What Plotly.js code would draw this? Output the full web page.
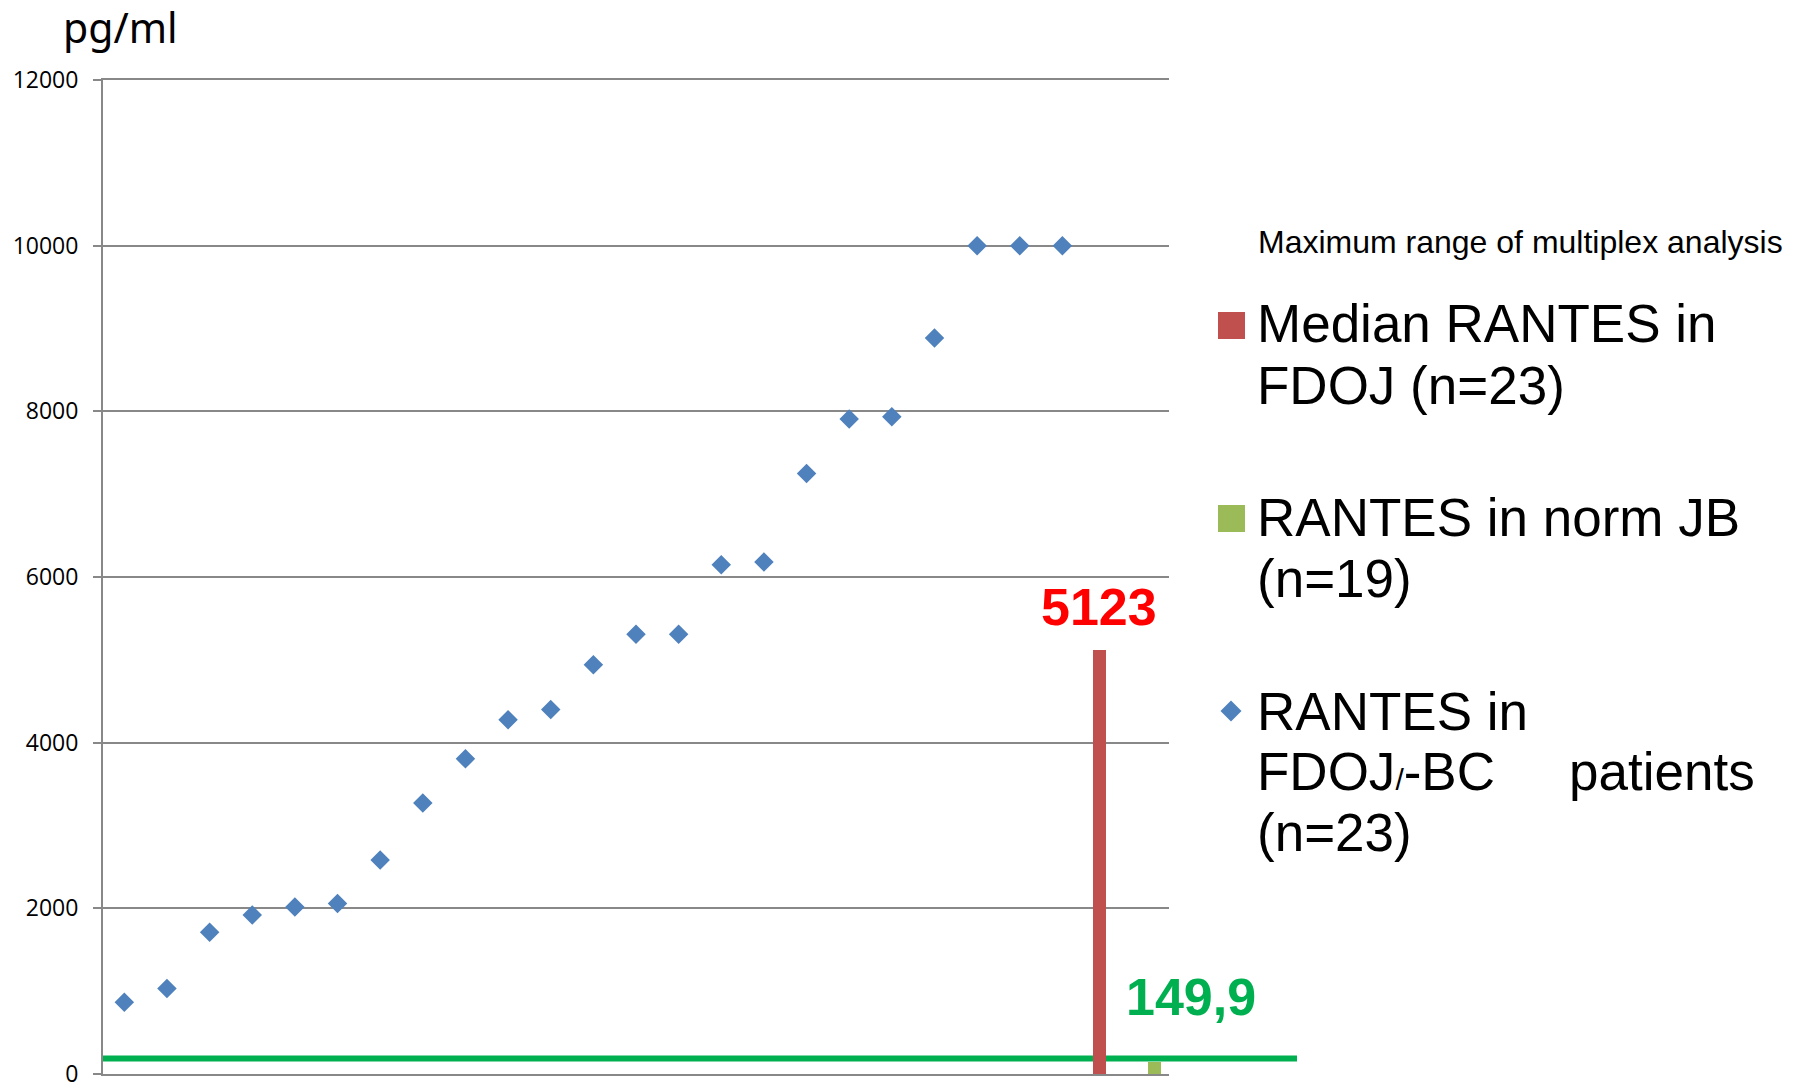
<!DOCTYPE html>
<html>
<head>
<meta charset="utf-8">
<script src="https://cdn.plot.ly/plotly-3.0.1.min.js"></script>
<style>
  html, body { margin: 0; padding: 0; background: #ffffff; }
  #chart { width: 1795px; height: 1083px; }
</style>
</head>
<body>
<div id="chart"></div>
<script>
// RANTES concentrations (pg/ml) in FDOJ-BC patients, sorted ascending
const patientIds = [1, 2, 3, 4, 5, 6, 7, 8, 9, 10, 11, 12, 13, 14, 15, 16, 17, 18, 19, 20, 21, 22, 23];
const patientRantes = [866, 1033, 1712, 1920, 2017, 2058, 2585, 3271, 3805, 4276, 4400, 4941,
                       5308, 5308, 6147, 6182, 7249, 7907, 7935, 8884, 10000, 10000, 10000];

// Median RANTES in FDOJ (n=23)
const medianPos = [24];
const medianFDOJ = [5123];

// RANTES in normal jaw bone (n=19)
const normPos = [25];
const normJB = [149.9];

const yTickVals = [0, 2000, 4000, 6000, 8000, 10000, 12000];
const yTickText = ['0', '2000', '4000', '6000', '8000', '10000', '12000'];

// ---- geometry of the page ----
const W = 1795, H = 1083;
const M = { l: 103, r: 626, t: 80, b: 9 };
const plotW = W - M.l - M.r;
const plotH = H - M.t - M.b;
const px = x => (x - M.l) / plotW;            // pixel -> paper x
const py = y => (H - M.b - y) / plotH;         // pixel -> paper y

const GRID = '#888888';
const BAR_W = 0.293;
const RED_OFF = -0.28;
const GREEN_OFF = 0.01;

const traces = [
  {
    type: 'scatter',
    mode: 'markers',
    x: patientIds,
    y: patientRantes,
    marker: { symbol: 'diamond', size: 15, color: '#4F81BD', line: { width: 0 } },
    cliponaxis: false,
    hoverinfo: 'x+y'
  },
  {
    type: 'bar',
    x: medianPos,
    y: medianFDOJ,
    width: BAR_W,
    offset: RED_OFF,
    marker: { color: '#C0504D', line: { width: 0 } }
  },
  {
    type: 'bar',
    x: normPos,
    y: normJB,
    width: BAR_W,
    offset: GREEN_OFF,
    marker: { color: '#9BBB59', line: { width: 0 } }
  }
];

const legendFont = { family: 'Liberation Sans, Arial, sans-serif', size: 53, color: '#000000' };
// text box centre from baseline for Liberation Sans
const mid = (baseline, size) => baseline - 0.3465 * size;

function textAt(text, left, baseline, font) {
  return {
    xref: 'paper', yref: 'paper',
    x: px(left), y: py(mid(baseline, font.size)),
    xanchor: 'left', yanchor: 'middle',
    text: text, showarrow: false, font: font,
    borderpad: 0
  };
}

const LX = 1256;

const annotations = [
  {
    xref: 'paper', yref: 'paper',
    x: px(120), y: py(27),
    xanchor: 'center', yanchor: 'middle',
    text: 'pg/ml', showarrow: false,
    font: { family: 'Noto Sans, Open Sans, sans-serif', size: 41, color: '#000000' }
  },
  textAt('Maximum range of multiplex analysis', 1257, 253,
         { family: 'Liberation Sans, Arial, sans-serif', size: 32, color: '#000000' }),
  textAt('Median RANTES in', LX, 342, legendFont),
  textAt('FDOJ (n=23)', LX, 404, legendFont),
  textAt('RANTES in norm JB', LX, 536, legendFont),
  textAt('(n=19)', LX, 597, legendFont),
  textAt('RANTES in', LX, 730, legendFont),
  textAt('FDOJ<span style="font-size:30px">/</span>-BC', LX, 790, legendFont),
  textAt('patients', 1568, 790, legendFont),
  textAt('(n=23)', LX, 851, legendFont),
  // value labels drawn from the bar values
  {
    xref: 'x', yref: 'y',
    x: medianPos[0] + RED_OFF + BAR_W / 2, y: medianFDOJ[0],
    xanchor: 'center', yanchor: 'middle', yshift: 43,
    text: String(medianFDOJ[0]), showarrow: false,
    font: { family: 'Liberation Sans, Arial, sans-serif', size: 52, color: '#FF0000', weight: 'bold' }
  },
  {
    xref: 'x', yref: 'y',
    x: normPos[0] + GREEN_OFF + BAR_W / 2, y: normJB[0],
    xanchor: 'center', yanchor: 'middle', yshift: 65, xshift: 37,
    text: String(normJB[0]).replace('.', ','), showarrow: false,
    font: { family: 'Liberation Sans, Arial, sans-serif', size: 52, color: '#00B050', weight: 'bold' }
  }
];

const shapes = [
  // normal jaw bone level, extended to the right of the plot
  {
    type: 'line', layer: 'below',
    xref: 'paper', x0: 0, x1: px(1297),
    yref: 'y', ysizemode: 'pixel', yanchor: normJB[0], y0: 3, y1: 3,
    line: { color: '#00B050', width: 6 }
  },
  // legend swatches
  {
    type: 'rect', xref: 'paper', yref: 'paper',
    x0: px(1218), x1: px(1245), y0: py(339), y1: py(312),
    fillcolor: '#C0504D', line: { width: 0 }
  },
  {
    type: 'rect', xref: 'paper', yref: 'paper',
    x0: px(1218), x1: px(1245), y0: py(532), y1: py(505),
    fillcolor: '#9BBB59', line: { width: 0 }
  },
  {
    type: 'path', xref: 'paper', yref: 'paper',
    path: 'M ' + px(1220.5) + ' ' + py(711) +
          ' L ' + px(1231) + ' ' + py(700.5) +
          ' L ' + px(1241.5) + ' ' + py(711) +
          ' L ' + px(1231) + ' ' + py(721.5) + ' Z',
    fillcolor: '#4F81BD', line: { width: 0 }
  }
];

const layout = {
  width: W, height: H,
  margin: M,
  paper_bgcolor: '#ffffff',
  plot_bgcolor: 'rgba(0,0,0,0)',
  showlegend: false,
  bargap: 0,
  xaxis: {
    range: [0.5, 25.5],
    showgrid: false, zeroline: false,
    showticklabels: false, ticks: '',
    showline: true, mirror: true, linecolor: GRID, linewidth: 2
  },
  yaxis: {
    range: [0, 12000],
    tickmode: 'array', tickvals: yTickVals, ticktext: yTickText,
    showgrid: true, gridcolor: GRID, gridwidth: 2,
    zeroline: false,
    showline: true, linecolor: GRID, linewidth: 2,
    ticks: 'outside', ticklen: 8, tickcolor: GRID, tickwidth: 2,
    ticklabelstandoff: 10,
    ticklabeloverflow: 'allow',
    tickfont: { family: 'Open Sans, Noto Sans, sans-serif', size: 23, color: '#000000' }
  },
  annotations: annotations,
  shapes: shapes
};

Plotly.newPlot('chart', traces, layout, { displayModeBar: false, staticPlot: true });
</script>
</body>
</html>
